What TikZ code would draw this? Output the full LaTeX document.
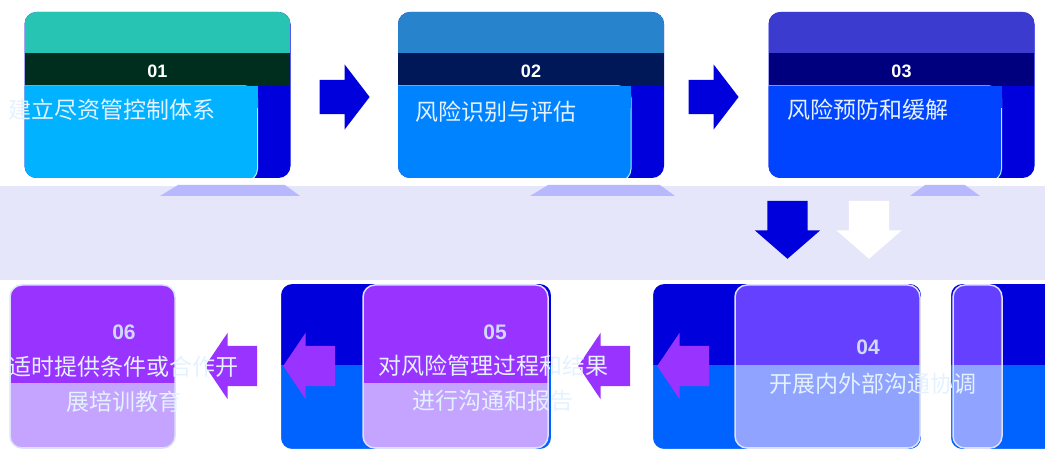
\documentclass[tikz,border=0pt]{standalone}
\usepackage{fontspec}
\newfontfamily\cjk{Noto Sans CJK SC}
\newfontfamily\numfont{Liberation Sans}
\usetikzlibrary{positioning, shapes.arrows}
\definecolor{deep}{HTML}{0000DD}
\definecolor{azure}{HTML}{0062FF}
\definecolor{headA}{HTML}{27C4B3}
\definecolor{darkA}{HTML}{002E1E}
\definecolor{bodyA}{HTML}{00B2FF}
\definecolor{headB}{HTML}{2683CC}
\definecolor{darkB}{HTML}{001858}
\definecolor{bodyB}{HTML}{0083FF}
\definecolor{headC}{HTML}{3B3BCF}
\definecolor{darkC}{HTML}{00007F}
\definecolor{bodyC}{HTML}{0044FF}
\definecolor{grape}{HTML}{9933FF}
\definecolor{lilac}{HTML}{C4A4FF}
\definecolor{iris}{HTML}{6640FF}
\definecolor{mist}{HTML}{8FA3FF}
\definecolor{band}{HTML}{E6E6FA}
\definecolor{stand}{HTML}{B8B8FF}
\definecolor{rim}{HTML}{A8EEFF}
\definecolor{rimb}{HTML}{DDE0FF}
\definecolor{paletext}{HTML}{E4F2FF}
\definecolor{numtext}{HTML}{D0D8FF}
\tikzstyle{card}=[rectangle, rounded corners=12pt, inner sep=0pt]
\tikzstyle{txt}=[font=\cjk\fontsize{23}{35}\selectfont, text=paletext, inner sep=0pt, align=center]
\tikzstyle{num}=[font=\numfont\bfseries\fontsize{21}{24}\selectfont, text=numtext, inner sep=0pt]
\tikzstyle{tnum}=[font=\numfont\bfseries\fontsize{18}{20}\selectfont, text=white, inner sep=0pt]
\tikzstyle{rarrow}=[single arrow, draw=none, fill=deep, minimum height=50pt, inner xsep=0pt, inner ysep=17pt, single arrow head extend=15.5pt, single arrow tip angle=105]
\tikzstyle{darrow}=[single arrow, draw=none, rotate=-90, minimum height=58pt, inner xsep=0pt, inner ysep=20pt, single arrow head extend=12.5pt, single arrow tip angle=98]
\tikzstyle{larrow}=[single arrow, draw=none, rotate=180, fill=grape, minimum height=52pt, inner xsep=0pt, inner ysep=20pt, single arrow head extend=13pt, single arrow tip angle=112]
\tikzset{
  topcard/.style n args={3}{card, minimum width=266pt, minimum height=166pt, fill=deep,
    path picture={
      \fill[#1, sharp corners] (path picture bounding box.north west) rectangle ([yshift=-41pt]path picture bounding box.north east);
      \fill[#2, sharp corners] ([yshift=-41pt]path picture bounding box.north west) rectangle ([yshift=-74pt]path picture bounding box.north east);
      \filldraw[fill=#3, draw=rim, line width=1pt] ([xshift=-20pt,yshift=-74pt]path picture bounding box.north west) rectangle ([xshift=-33pt,yshift=-3pt]path picture bounding box.south east);
      \fill[#3, sharp corners] ([yshift=-74pt]path picture bounding box.north west) rectangle ([xshift=-33pt,yshift=-96pt]path picture bounding box.north east);
    }},
  botcard/.style n args={4}{card, minimum width=#1, minimum height=163pt, fill=#3, draw=rimb, line width=1.5pt,
    path picture={
      \fill[#2, sharp corners] (path picture bounding box.north west) rectangle ([yshift=-#4]path picture bounding box.north east);
    }},
  frame/.style={card, minimum width=#1, minimum height=167pt, fill=azure, draw=white, line width=2pt,
    path picture={
      \fill[deep, sharp corners] (path picture bounding box.north west) rectangle ([yshift=-82pt]path picture bounding box.north east);
    }}
}

\begin{document}
\begin{tikzpicture}[x=1pt, y=-1pt]
\useasboundingbox (0,0) rectangle (1045,462);
% band and stands under the top row
\fill[band] (0,186) rectangle (1045,280);
\fill[stand] (160,196) -- (178,185) -- (285,185) -- (300,196) -- cycle;
\fill[stand] (530,196) -- (548,185) -- (660,185) -- (675,196) -- cycle;
\fill[stand] (910,196) -- (925,185) -- (965,185) -- (980,196) -- cycle;

% top row
\node[topcard={headA}{darkA}{bodyA}] (a) at (157.5,95) {};
\node[topcard={headB}{darkB}{bodyB}] (b) at (531,95) {};
\node[topcard={headC}{darkC}{bodyC}] (c) at (901.5,95) {};
\node[tnum] (na) at (157.5,71) {01};
\node[tnum] (nb) at (531,71) {02};
\node[tnum] (nc) at (901.5,71) {03};
\node[txt, anchor=west] (ta) at (8,110) {建立尽资管控制体系};
\node[txt, anchor=west] (tb) at (415,112) {风险识别与评估};
\node[txt, anchor=west] (tc) at (787,110) {风险预防和缓解};
\node[rarrow] (ab) [right of=a, node distance=180.5pt, yshift=-2pt] {};
\node[rarrow] (bc) [right of=b, node distance=176pt, yshift=-2pt] {};

% down to the bottom row
\node[darrow, fill=deep] (cd) at (787.5,221) {};
\node[darrow, fill=white] (cd2) at (869,221) {};

% bottom row
\node[frame=272pt] (fe) at (416,366.5) {};
\node[frame=270pt] (fd) at (787,366.5) {};
\node[frame=150pt] (fx) at (1025,366.5) {};
\node[botcard={165pt}{grape}{lilac}{98pt}] (f) at (92.5,366.5) {};
\node[botcard={185pt}{grape}{lilac}{98pt}] (e) at (455.5,366.5) {};
\node[botcard={185pt}{iris}{mist}{80pt}] (d) at (827.5,366.5) {};
\node[botcard={49pt}{iris}{mist}{80pt}] (dx) at (977.5,366.5) {};
\node[larrow] (ef) at (238,366) {};
\node[larrow] (ef2) at (316,366) {};
\node[larrow] (de) at (611,366) {};
\node[larrow] (de2) at (690,366) {};

\node[num] (nf) at (124,332) {06};
\node[num] (ne) at (495,332) {05};
\node[num] (nd) at (868,347) {04};
\node[txt] (tf) at (124,384) {适时提供条件或合作开\\展培训教育};
\node[txt] (te) at (493,383) {对风险管理过程和结果\\进行沟通和报告};
\node[txt] (td) at (873,384) {开展内外部沟通协调};
\end{tikzpicture}
\end{document}
